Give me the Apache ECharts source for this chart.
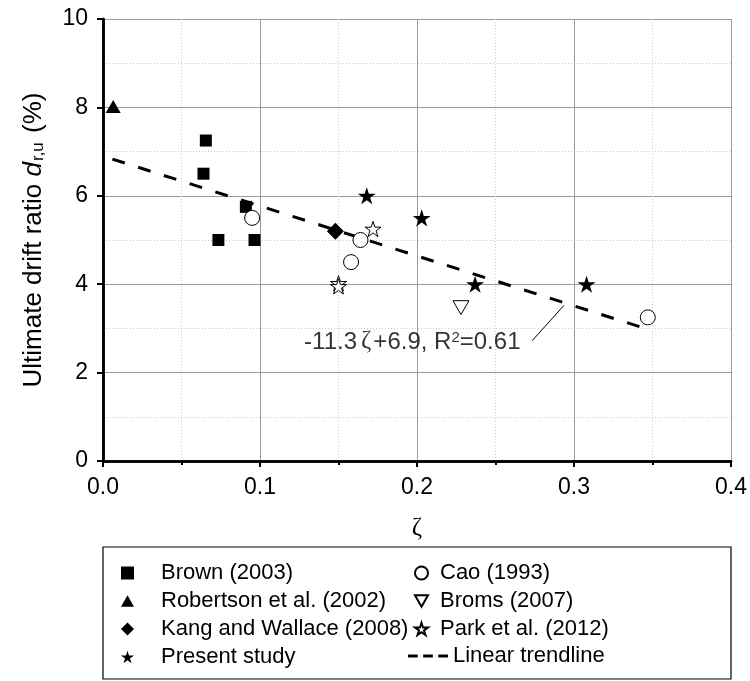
<!DOCTYPE html>
<html>
<head>
<meta charset="utf-8">
<script src="https://cdn.jsdelivr.net/npm/echarts@6/dist/echarts.min.js"></script>
<style>
html, body { margin: 0; padding: 0; background: #fff; }
#chart { width: 750px; height: 681px; }
</style>
</head>
<body>
<div id="chart"></div>
<script>
// data: [zeta, drift ratio %]
var brown     = [[0.0655, 7.25], [0.064, 6.5], [0.091, 5.75], [0.0735, 5.0], [0.0965, 5.0]];
var robertson = [[0.0065, 8.02]];
var kang      = [[0.148, 5.2]];
var present   = [[0.168, 6.0], [0.203, 5.5], [0.237, 4.0], [0.308, 4.0]];
var cao       = [[0.095, 5.5], [0.164, 5.0], [0.158, 4.5], [0.347, 3.25]];
var broms     = [[0.228, 3.47]];
var park      = [[0.150, 4.02], [0.150, 3.95], [0.172, 5.25]];
var trend     = [[0.006, 6.83], [0.347, 2.98]];
var leader    = [[0.2733, 2.72], [0.2936, 3.52]];
var noteAt    = [[0.197, 2.69]];

var col1 = ['Brown (2003)', 'Robertson et al. (2002)', 'Kang and Wallace (2008)', 'Present study'];
var col2 = ['Cao (1993)', 'Broms (2007)', 'Park et al. (2012)'];
var trendName = 'Linear trendline';

var FONT = 'Liberation Sans, Arial, sans-serif';
var SQUARE  = 'path://M0,0L10,0L10,10L0,10Z';
var TRI_UP  = 'path://M5,0L10,8.66L0,8.66Z';
var TRI_DN  = 'path://M0,0L10,0L5,8.66Z';
var DIAMOND = 'path://M5,0L10,5L5,10L0,5Z';
var STAR    = 'path://M50,0L61.17,34.63L97.55,34.55L68.07,55.87L79.39,90.45L50,69L20.61,90.45L31.93,55.87L2.45,34.55L38.83,34.63Z';
var DASHES  = 'path://M0,0L9,0L9,3L0,3Z M14,0L23,0L23,3L14,3Z M28,0L37,0L37,3L28,3Z';

var col1Icons = [SQUARE, TRI_UP, DIAMOND, STAR];
var col2Icons = ['circle', TRI_DN, STAR];

function pts(name, data, symbol, size, open) {
    return {
        type: 'scatter',
        name: name,
        data: data,
        symbol: symbol,
        symbolSize: size,
        symbolKeepAspect: true,
        itemStyle: open
            ? {color: '#fff', borderColor: '#000', borderWidth: 1, opacity: 1}
            : {color: '#000', opacity: 1},
        z: 3
    };
}

function legendItems(names, icons) {
    return names.map(function (n, i) { return {name: n, icon: icons[i]}; });
}

function legendText(gap) {
    return {
        color: '#000',
        rich: {
            g: {width: gap},
            t: {fontFamily: FONT, fontSize: 22, lineHeight: 21, color: '#000'}
        }
    };
}

var chart = echarts.init(document.getElementById('chart'));

var legendBase = {
    orient: 'vertical',
    top: 562,
    padding: 0,
    itemWidth: 13,
    itemHeight: 13,
    itemGap: 6,
    symbolKeepAspect: true,
    formatter: function (name) { return '{g|}{t|' + name + '}'; },
    selectedMode: false
};

var option = {
    animation: false,
    grid: {left: 103, right: 19, top: 19, bottom: 220},
    xAxis: [{
        type: 'value',
        min: 0, max: 0.4, interval: 0.1,
        name: 'ζ',
        nameLocation: 'middle',
        nameGap: 55,
        nameTextStyle: {fontFamily: 'Liberation Serif, serif', fontSize: 25, color: '#000'},
        axisLine: {lineStyle: {color: '#000', width: 2.5}},
        axisTick: {inside: false, length: 6, lineStyle: {color: '#000', width: 2}},
        minorTick: {show: true, splitNumber: 2, length: 4, lineStyle: {color: '#000', width: 2}},
        axisLabel: {
            margin: 15, fontFamily: FONT, fontSize: 23, color: '#000',
            formatter: function (v) { return v.toFixed(1); }
        },
        splitLine: {show: true, lineStyle: {color: '#9a9a9a', width: 1}},
        minorSplitLine: {show: true, lineStyle: {color: '#c8c8c8', width: 1, type: [1, 2]}}
    }, {
        type: 'value', position: 'top',
        min: 0, max: 0.4, interval: 0.1,
        axisLine: {show: true, lineStyle: {color: '#000', width: 2.5}},
        axisTick: {show: false}, axisLabel: {show: false}, splitLine: {show: false}
    }],
    yAxis: [{
        type: 'value',
        min: 0, max: 10, interval: 2,
        name: '{n|Ultimate drift ratio }{i|d}{s|r,u}{n| (%)}',
        nameLocation: 'middle',
        nameGap: 56,
        nameTextStyle: {
            color: '#000',
            rich: {
                n: {fontFamily: FONT, fontSize: 26, lineHeight: 26, verticalAlign: 'top', color: '#000'},
                i: {fontFamily: FONT, fontSize: 26, lineHeight: 26, verticalAlign: 'top', fontStyle: 'italic', color: '#000'},
                s: {fontFamily: FONT, fontSize: 17, lineHeight: 17, verticalAlign: 'bottom', padding: [22, 2, 0, 1], color: '#000'}
            }
        },
        axisLine: {show: true, lineStyle: {color: '#000', width: 2.5}},
        axisTick: {show: true, length: 6, lineStyle: {color: '#000', width: 2}},
        minorTick: {show: false, splitNumber: 2},
        axisLabel: {margin: 15, fontFamily: FONT, fontSize: 23, color: '#000'},
        splitLine: {show: true, lineStyle: {color: '#9a9a9a', width: 1}},
        minorSplitLine: {show: true, lineStyle: {color: '#c8c8c8', width: 1, type: [1, 2]}}
    }, {
        type: 'value', position: 'right',
        min: 0, max: 10, interval: 2,
        axisLine: {show: true, lineStyle: {color: '#000', width: 2.5}},
        axisTick: {show: false}, axisLabel: {show: false}, splitLine: {show: false}
    }],
    legend: [
        Object.assign({}, legendBase, {left: 121, textStyle: legendText(22),
            data: legendItems(col1, col1Icons)}),
        Object.assign({}, legendBase, {left: 414, textStyle: legendText(7),
            data: legendItems(col2, col2Icons)}),
        Object.assign({}, legendBase, {left: 408, top: 645, itemWidth: 40, textStyle: legendText(0),
            data: [{name: trendName, icon: DASHES}]})
    ],
    graphic: [{
        type: 'rect',
        shape: {x: 103, y: 547, width: 628, height: 132},
        style: {fill: 'none', stroke: '#000', lineWidth: 1.2},
        z: 0
    }],
    series: [
        {
            type: 'line', name: trendName, data: trend, symbol: 'none', silent: true,
            itemStyle: {color: '#000'},
            lineStyle: {color: '#000', width: 3, type: [13, 14]}, z: 2
        },
        {
            type: 'line', name: 'leader', data: leader, symbol: 'none', silent: true,
            lineStyle: {color: '#000', width: 1}, z: 2
        },
        pts(col1[0], brown, SQUARE, 12, false),
        pts(col1[1], robertson, TRI_UP, 15, false),
        pts(col1[2], kang, DIAMOND, 17, false),
        pts(col1[3], present, STAR, 18, false),
        pts(col2[0], cao, 'circle', 15, true),
        pts(col2[1], broms, TRI_DN, 16, true),
        pts(col2[2], park, STAR, 16, true),
        {
            type: 'scatter', name: 'note', data: noteAt, symbolSize: 0, silent: true,
            label: {
                show: true, position: 'inside',
                formatter: '{t|-11.3}{z|ζ}{t|+6.9, R}{p|2}{t|=0.61}',
                rich: {
                    t: {fontFamily: FONT, fontSize: 24, lineHeight: 24, verticalAlign: 'bottom', color: '#000'},
                    z: {fontFamily: 'Liberation Serif, serif', fontSize: 25, lineHeight: 24, verticalAlign: 'bottom', color: '#000', padding: [0, 2, 0, 4]},
                    p: {fontFamily: FONT, fontSize: 15, lineHeight: 15, verticalAlign: 'top', color: '#000'}
                }
            }
        }
    ]
};

chart.setOption(option);
</script>
</body>
</html>
